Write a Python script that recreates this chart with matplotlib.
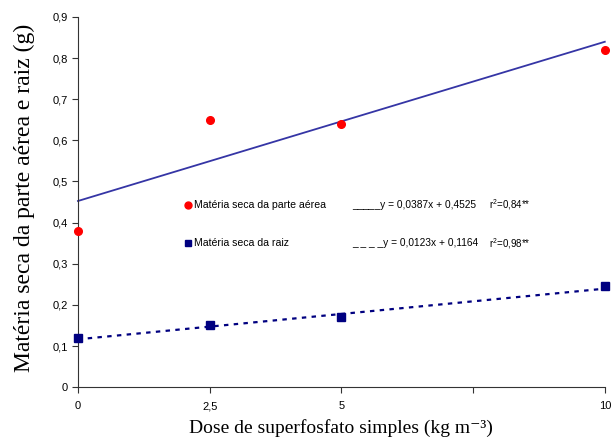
import numpy as np
import matplotlib.pyplot as plt

plt.rcParams['font.family'] = ['Liberation Sans', 'DejaVu Sans']
plt.rcParams['mathtext.default'] = 'regular'

# data
dose = [0, 2.5, 5, 10]
aerea = [0.38, 0.65, 0.64, 0.82]
raiz = [0.12, 0.15, 0.17, 0.245]

# fitted equations
coef_aerea = (0.0387, 0.4525)
coef_raiz = (0.0123, 0.1164)

fig = plt.figure(figsize=(6.14, 4.44), dpi=100)
ax = fig.add_axes([0.127, 0.128, 0.858, 0.834])

xx = np.array([0, 10])
ax.plot(xx, coef_aerea[0] * xx + coef_aerea[1], color='#3535a5', lw=1.3, clip_on=False)
ax.plot(xx, coef_raiz[0] * xx + coef_raiz[1], color='#000080', lw=1.6,
        linestyle=(0, (2.0, 2.4)), clip_on=False)
ax.plot(dose, aerea, 'o', color='#ff0000', ms=5.5, clip_on=False, zorder=5)
ax.plot(dose, raiz, 's', color='#000080', ms=5.5, clip_on=False, zorder=5)

ax.set_xlim(0, 10)
ax.set_ylim(0, 0.9)
ax.set_xticks([0, 2.5, 5, 7.5, 10])
ax.set_xticklabels(['0', '2,5', '5', '', '10'])
ax.set_yticks(np.arange(0, 0.91, 0.1))
ax.set_yticklabels(['0'] + ['0,%d' % i for i in range(1, 10)])
ax.tick_params(labelsize=8, direction='out', length=4, width=0.8, color='#333333')
ax.tick_params(axis='x', pad=6)
for s in ['top', 'right']:
    ax.spines[s].set_visible(False)
for s in ['left', 'bottom']:
    ax.spines[s].set_color('#333333')
    ax.spines[s].set_linewidth(0.8)

ax.set_xlabel('Dose de superfosfato simples (kg m⁻³)', family=['Liberation Serif', 'DejaVu Serif'],
              fontsize=14)
ax.xaxis.set_label_coords(0.5, -0.085)
ax.set_ylabel('Matéria seca da parte aérea e raiz (g)', family='Liberation Serif',
              fontsize=17)
ax.yaxis.set_label_coords(-0.081, 0.51)

# legend-like annotations
ax.plot([2.09], [0.443], 'o', color='#ff0000', ms=5, clip_on=False)
ax.plot([2.09], [0.35], 's', color='#000080', ms=5, clip_on=False)
ax.text(2.2, 0.443, 'Matéria seca da parte aérea', fontsize=7.6, va='center')
ax.text(2.2, 0.35, 'Matéria seca da raiz', fontsize=7.6, va='center')
ax.text(5.2, 0.443, '_____y = 0,0387x + 0,4525', fontsize=7.3, va='center')
ax.text(5.2, 0.35, '_ _ _ _y = 0,0123x + 0,1164', fontsize=7.3, va='center')
ax.text(7.8, 0.443, 'r$^{2}$=0,84**', fontsize=7, va='center')
ax.text(7.8, 0.35, 'r$^{2}$=0,98**', fontsize=7, va='center')

fig.savefig('out.png', dpi=100)
